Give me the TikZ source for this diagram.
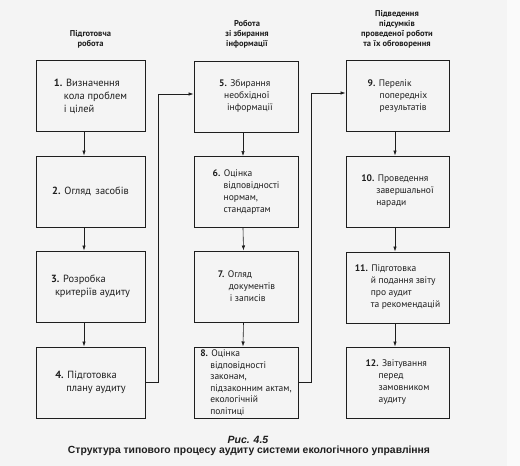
\documentclass[tikz,border=0pt]{standalone}
\usepackage{fontspec}
\setmainfont{PT Sans}
\newfontfamily\capfont{Liberation Sans}
\usetikzlibrary{arrows.meta}
\definecolor{ink}{HTML}{1E1E1E}
\definecolor{paper}{HTML}{F4F4F4}
\definecolor{paperedge}{HTML}{FAFAFA}
\begin{document}
\begin{tikzpicture}[x=1pt,y=-1pt,
  box/.style={draw=ink, line width=1pt, minimum height=71pt, align=left, inner sep=1.5pt, text=ink,
    font=\fontsize{9.5}{12}\selectfont},
  c1/.style={box, minimum width=109pt, font=\fontsize{10.4}{13}\selectfont},
  c2/.style={box, minimum width=104pt},
  c3/.style={box, minimum width=103pt},
  arr/.style={draw=ink, line width=0.6pt, -{Latex[length=5pt,width=3.5pt]}},
  ttl/.style={align=center, anchor=north, inner sep=0pt, text=ink, font=\fontsize{8.5}{10}\selectfont\bfseries}]
\useasboundingbox[fill=paper] (0,0) rectangle (520,466);
\fill[paperedge] (507,0) rectangle (520,466);

% titles
\node[ttl] (t1) at (90.5,30) {Підготовча\\робота};
\node[ttl] (t2) at (247,20) {Робота\\зі збирання\\інформації};
\node[ttl] (t3) at (397,10) {Підведення\\підсумків\\проведеної роботи\\та їх обговорення};

% column 1
\node[c1] (b1) at (90.5,96) {\textbf{1.} Визначення\\\hspace*{10pt}кола проблем\\\hspace*{10pt}і цілей};
\node[c1] (b2) at (90.5,191.5) {\textbf{2.} Огляд\, засобів};
\node[c1] (b3) at (90.5,286.5) {\textbf{3.} Розробка\\\hspace*{4pt}критеріїв аудиту};
\node[c1] (b4) at (90.5,382.5) {\textbf{4.} Підготовка\\\hspace*{11pt}плану аудиту};

% column 2
\node[c2] (b5) at (246,96.5) {\textbf{5.} Збирання\\\hspace*{5pt}необхідної\\\hspace*{8pt}інформації};
\node[c2] (b6) at (246,192) {\textbf{6.} Оцінка\\\hspace*{11pt}відповідності\\\hspace*{11pt}нормам,\\\hspace*{11pt}стандартам};
\node[c2] (b7) at (246.5,286.5) {\textbf{7.} Огляд\\\hspace*{11pt}документів\\\hspace*{12pt}і записів};
\node[c2, font=\fontsize{9.5}{11.5}\selectfont] (b8) at (246,382.5) {\textbf{8.} Оцінка\\\hspace*{10pt}відповідності\\\hspace*{10pt}законам,\\\hspace*{10pt}підзаконним актам,\\\hspace*{10pt}екологічній\\\hspace*{10pt}політиці};

% column 3
\node[c3] (b9) at (397.5,96) {\textbf{9.} Перелік\\\hspace*{12pt}попередніх\\\hspace*{12pt}результатів};
\node[c3] (b10) at (397.5,191.5) {\textbf{10.} Проведення\\\hspace*{15pt}завершальної\\\hspace*{15pt}наради};
\node[c3] (b11) at (397.5,287.5) {\textbf{11.} Підготовка\\\hspace*{16pt}й подання звіту\\\hspace*{16pt}про аудит\\\hspace*{16pt}та рекомендацій};
\node[c3] (b12) at (397.5,382.5) {\textbf{12.} Звітування\\\hspace*{13pt}перед\\\hspace*{13pt}замовником\\\hspace*{13pt}аудиту};

% vertical arrows
\foreach \a/\b in {b1/b2,b2/b3,b3/b4}
  \draw[arr] ([xshift=-6.5pt]\a.south) -- ([xshift=-6.5pt]\b.north);
\foreach \a/\b in {b5/b6,b6/b7,b7/b8}
  \draw[arr] ([xshift=-3pt]\a.south) -- ([xshift=-3pt]\b.north);
\foreach \a/\b in {b9/b10,b10/b11,b11/b12}
  \draw[arr] ([xshift=-2.5pt]\a.south) -- ([xshift=-2.5pt]\b.north);

% loops
\coordinate (l1) at (158.5,0);
\coordinate (l2) at (311.5,0);
\draw[arr] (b4.east) -- (b4.east -| l1) |- ([yshift=2.5pt]b5.west);
\draw[arr] (b8.east) -- (b8.east -| l2) |- ([yshift=3pt]b9.west);

% caption
\node[inner sep=0pt, text=ink, font=\capfont\bfseries\itshape\fontsize{10.5}{12}\selectfont] (fig) at (248,440) {Рис. 4.5};
\node[inner sep=0pt, text=ink] (cap) at (249,451) {\resizebox{362pt}{!}{\capfont\bfseries\fontsize{9}{11}\selectfont Структура типового процесу аудиту системи екологічного управління}};
\end{tikzpicture}
\end{document}
